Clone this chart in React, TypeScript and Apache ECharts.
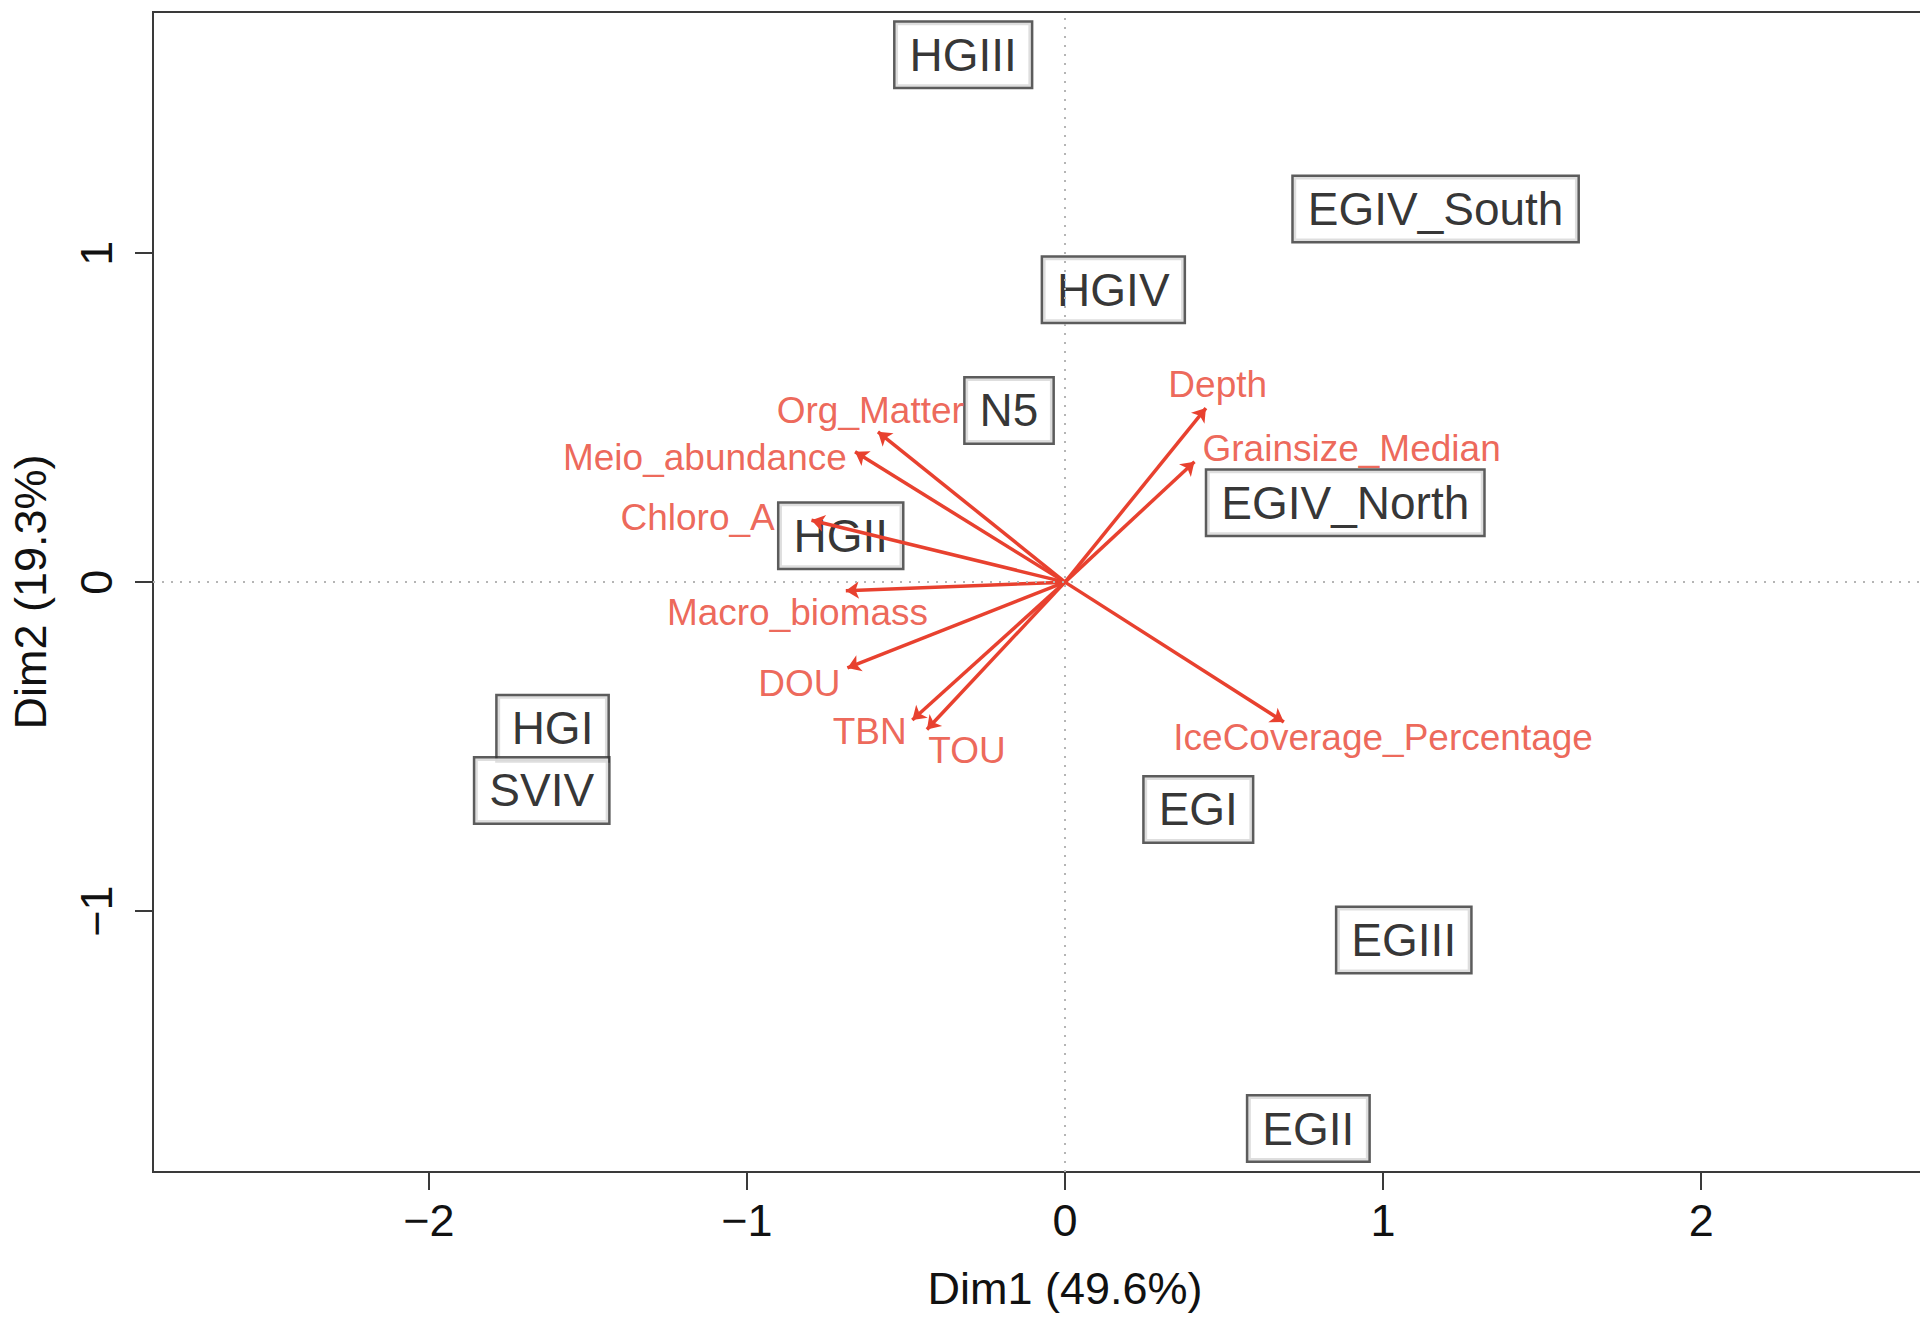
import React, { useEffect, useRef } from "react";
import * as echarts from "echarts";

// ---- data ----
const xTicks = [-2, -1, 0, 1, 2];
const yTicks = [-1, 0, 1];
const xRange = [-2.867, 2.867];
const yRange = [-1.793, 1.733];
const xTitle = "Dim1 (49.6%)";
const yTitle = "Dim2 (19.3%)";

const sites = ["HGIII", "EGIV_South", "HGIV", "N5", "EGIV_North", "HGII", "HGI", "SVIV", "EGI", "EGIII", "EGII"];
const siteX = [-0.32, 1.165, 0.152, -0.176, 0.881, -0.705, -1.611, -1.645, 0.419, 1.065, 0.765];
const siteY = [1.603, 1.134, 0.889, 0.522, 0.241, 0.141, -0.444, -0.633, -0.691, -1.088, -1.661];

const vars = ["Depth", "Grainsize_Median", "Org_Matter", "Meio_abundance", "Chloro_A", "Macro_biomass", "DOU", "TBN", "TOU", "IceCoverage_Percentage"];
const varX = [0.443, 0.407, -0.588, -0.66, -0.797, -0.689, -0.684, -0.48, -0.434, 0.688];
const varY = [0.529, 0.366, 0.457, 0.396, 0.188, -0.026, -0.261, -0.419, -0.448, -0.425];
const varLabelX = [0.48, 0.901, -0.612, -1.132, -1.155, -0.841, -0.835, -0.614, -0.308, 1.0];
const varLabelY = [0.602, 0.407, 0.523, 0.38, 0.195, -0.091, -0.309, -0.454, -0.511, -0.473];

const RED = "#E8412F";
const FONT = "Liberation Sans";

export default function App() {
  const ref = useRef<HTMLDivElement>(null);
  useEffect(() => {
    document.body.style.margin = "0";
    const chart = echarts.init(ref.current!, null, { renderer: "svg" });
    const fmt = (v: number) => (v < 0 ? "\u2212" + Math.abs(v) : String(v));
    chart.setOption({
      animation: false,
      backgroundColor: "#ffffff",
      grid: {
        left: 151,
        right: 0,
        top: 12,
        bottom: 145,
        show: true,
        borderColor: "#3a3a3a",
        borderWidth: 2,
        backgroundColor: "transparent",
      },
      xAxis: {
        type: "value",
        min: xRange[0],
        max: xRange[1],
        splitLine: { show: false },
        axisLine: { show: false, onZero: false },
        axisTick: { show: true, length: 18, lineStyle: { color: "#3a3a3a", width: 2 }, customValues: xTicks },
        axisLabel: {
          customValues: xTicks,
          formatter: fmt,
          fontFamily: FONT,
          fontSize: 45,
          color: "#111111",
          margin: 26,
        },
        name: xTitle,
        nameLocation: "middle",
        nameGap: 94,
        nameTextStyle: { fontFamily: FONT, fontSize: 45, color: "#111111" },
      },
      yAxis: {
        type: "value",
        min: yRange[0],
        max: yRange[1],
        splitLine: { show: false },
        axisLine: { show: false, onZero: false },
        axisTick: { show: true, length: 18, lineStyle: { color: "#3a3a3a", width: 2 }, customValues: yTicks },
        axisLabel: {
          customValues: yTicks,
          formatter: fmt,
          rotate: 90,
          fontFamily: FONT,
          fontSize: 45,
          color: "#111111",
          margin: 34,
        },
        name: yTitle,
        nameLocation: "middle",
        nameRotate: 90,
        nameGap: 100,
        nameTextStyle: { fontFamily: FONT, fontSize: 45, color: "#111111" },
      },
      series: [
        {
          type: "scatter",
          z: 1,
          data: [],
          markLine: {
            silent: true,
            symbol: ["none", "none"],
            label: { show: false },
            lineStyle: { type: [2, 7], color: "#b5b5b5", width: 2 },
            data: [{ xAxis: 0 }, { yAxis: 0 }],
          },
        },
        {
          type: "scatter",
          z: 2,
          symbolSize: 0,
          data: sites.map((s, i) => ({ name: s, value: [siteX[i], siteY[i]] })),
          label: {
            show: true,
            position: "inside",
            formatter: "{b}",
            fontFamily: FONT,
            fontSize: 46,
            lineHeight: 48,
            color: "#000000",
            backgroundColor: "#ffffff",
            borderColor: "#333333",
            borderWidth: 2.5,
            padding: [8, 14, 8, 14],
          },
        },
        {
          type: "lines",
          coordinateSystem: "cartesian2d",
          z: 3,
          symbol: ["none", "arrow"],
          symbolSize: 13,
          lineStyle: { color: RED, width: 3.5, opacity: 1 },
          data: vars.map((v, i) => ({ name: v, coords: [[0, 0], [varX[i], varY[i]]] })),
        },
        {
          type: "scatter",
          z: 4,
          symbolSize: 0,
          data: vars.map((v, i) => ({ name: v, value: [varLabelX[i], varLabelY[i]] })),
          label: {
            show: true,
            position: "inside",
            formatter: "{b}",
            fontFamily: FONT,
            fontSize: 37,
            color: RED,
          },
        },
      ],
    });
    return () => chart.dispose();
  }, []);
  return (
    <div style={{ width: 1920, height: 1317, overflow: "hidden" }}>
      <div ref={ref} style={{ width: 1977, height: 1317 }} />
    </div>
  );
}
